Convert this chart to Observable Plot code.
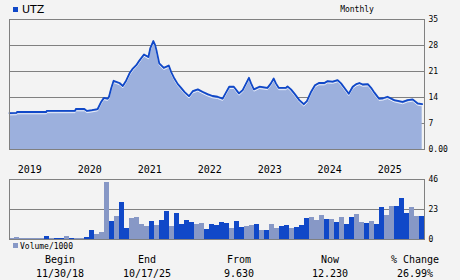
<!DOCTYPE html>
<html><head><meta charset="utf-8">
<script src="https://cdn.jsdelivr.net/npm/d3@7"></script>
<script src="https://cdn.jsdelivr.net/npm/@observablehq/plot@0.6"></script>
<style>
html,body{margin:0;padding:0;background:#f3f3f3;}
#c{position:relative;width:460px;height:280px;overflow:hidden;font-family:"DejaVu Sans Mono",monospace;color:#000;}
.abs{position:absolute;white-space:nowrap;}
.ctr{transform:translate(-50%,-50%);}
.sq{position:absolute;}
</style></head><body><div id="c"></div>
<script>
const ticker = "UTZ";
const periodLabel = "Monthly";
const priceDates = ["2018-11-30","2019-01-12","2019-01-15","2019-07-12","2019-07-15","2020-01-03","2020-01-08","2020-02-29","2020-03-15","2020-04-15","2020-05-20","2020-06-10","2020-06-27","2020-07-20","2020-07-28","2020-08-10","2020-08-25","2020-09-30","2020-10-20","2020-11-10","2020-11-30","2020-12-20","2021-01-10","2021-01-30","2021-02-26","2021-03-25","2021-04-05","2021-04-24","2021-05-05","2021-05-15","2021-05-30","2021-06-27","2021-07-27","2021-08-10","2021-08-30","2021-09-20","2021-10-10","2021-10-30","2021-11-27","2021-12-20","2022-01-20","2022-02-20","2022-03-20","2022-04-20","2022-05-20","2022-06-20","2022-07-10","2022-07-30","2022-08-27","2022-09-27","2022-10-20","2022-11-10","2022-11-27","2022-12-10","2022-12-27","2023-01-30","2023-03-20","2023-04-10","2023-04-27","2023-05-10","2023-05-27","2023-07-10","2023-07-20","2023-08-10","2023-08-30","2023-09-30","2023-10-27","2023-11-15","2023-12-10","2024-01-03","2024-01-27","2024-02-29","2024-03-20","2024-04-20","2024-05-20","2024-06-10","2024-07-10","2024-07-27","2024-08-20","2024-09-10","2024-09-30","2024-10-20","2024-11-20","2024-12-10","2024-12-30","2025-01-27","2025-02-20","2025-03-20","2025-04-30","2025-06-20","2025-07-20","2025-08-20","2025-09-20","2025-10-17"];
const priceValues = [9.8,9.85,10.1,10.1,10.4,10.4,10.9,10.9,10.4,10.6,10.9,12.8,13.9,13.7,14.2,16.4,18.5,17.9,17.1,18.6,20.5,21.8,22.7,24.0,25.6,24.9,27.2,29.2,28.1,26.3,23.2,22.0,22.6,20.9,19.1,17.6,16.6,15.5,14.35,15.7,16.2,15.5,14.9,14.4,14.2,13.7,15.3,16.9,16.9,15.1,16.0,17.8,19.3,17.8,16.2,16.9,16.6,17.8,19.1,17.8,16.6,16.6,17.0,16.2,15.1,13.3,12.2,13.0,15.5,17.3,17.9,17.9,18.4,18.3,18.7,17.8,16.0,15.0,16.9,17.6,17.9,17.5,17.6,16.6,15.3,13.7,13.8,14.2,13.3,12.8,13.3,13.5,12.4,12.23];
const priceTicks = [0,7,14,21,28,35];
const volumeTicks = [0,23,46];
const yearTicks = ["2019-01-01","2020-01-01","2021-01-01","2022-01-01","2023-01-01","2024-01-01","2025-01-01"];
const volumeStart = "2018-12-01";
const volumeValues = [1.0,1.5,0.8,0.8,0.5,0.5,0.8,2.3,0.8,0.8,0.8,2.3,1.0,0.8,0.8,1.5,6.9,3.9,5.4,44,13.9,17.7,28.5,8.5,16.2,17.0,11.6,10.0,13.9,10.8,14.7,21.6,10.0,20.1,11.6,14.7,13.1,11.6,12.3,7.7,11.6,10.8,
13.1,12.3,8.5,13.9,9.3,10.0,10.8,11.6,6.9,6.9,11.6,8.5,10.0,10.8,8.5,9.3,10.8,16.2,17.0,14.7,18.5,15.4,15.4,13.1,17.0,11.6,17.0,19.3,13.1,12.3,13.9,11.6,24.7,18.5,25.4,25.4,31.6,20.1,24.7,17.7,17.7];
const volumeUp = [0,0,0,0,0,0,0,1,0,1,1,0,1,0,0,1,1,0,0,0,1,0,1,1,0,0,0,0,1,0,1,1,0,1,1,1,1,0,0,1,1,1,
1,1,0,1,1,0,0,1,0,1,0,0,1,1,0,1,1,1,0,0,0,1,0,1,0,1,1,0,0,1,0,1,1,0,0,1,1,1,0,0,1];
const statLabels = ["Begin","End","From","Now","% Change"];
const statValues = ["11/30/18","10/17/25","9.630","12.230","26.99%"];
const volumeLabel = "Volume/1000";

const BLUE = "#1048c8", AREA = "#9cb0dd", LIGHT = "#8798c6", GRID = "#808080";
const xDomain = [new Date("2018-11-30"), new Date("2025-10-31")];
const priceData = priceDates.map((d,i)=>({date:new Date(d), close:priceValues[i]}));
const vs = new Date(volumeStart);
const volData = volumeValues.map((v,i)=>({start:d3.utcMonth.offset(vs,i), end:d3.utcMonth.offset(vs,i+1), v, fill: volumeUp[i] ? BLUE : LIGHT}));

const c = document.getElementById("c");
function add(html){ c.insertAdjacentHTML("beforeend", html); }

const style = {background:"transparent", fontFamily:"DejaVu Sans Mono, monospace", fontSize:"8px", color:"#000"};

const price = Plot.plot({
  width:460, height:175, marginLeft:9, marginRight:36, marginTop:19, marginBottom:26,
  style,
  x:{type:"utc", domain:xDomain, label:null},
  y:{domain:[0,35], label:null},
  marks:[
    Plot.gridY(priceTicks.slice(1,-1), {stroke:GRID, strokeOpacity:1}),
    Plot.areaY(priceData, {x:"date", y:"close", fill:AREA}),
    Plot.line(priceData, {x:"date", y:"close", stroke:"#e9eefa", strokeWidth:1, dy:1.8}),
    Plot.line(priceData, {x:"date", y:"close", stroke:BLUE, strokeWidth:1.8}),
    Plot.frame({stroke:GRID}),
    Plot.axisY(priceTicks, {anchor:"right", label:null, tickSize:0, tickPadding:4, fontSize:8, tickFormat:d => d===0 ? "0.00" : String(d)}),
    Plot.axisX(yearTicks.map(d=>new Date(d)), {label:null, tickSize:0, tickPadding:16, dx:15, fontSize:10, tickFormat:d => String(d.getUTCFullYear())})
  ]
});
price.style.position = "absolute"; price.style.left = "0px"; price.style.top = "0px";
c.appendChild(price);

const vol = Plot.plot({
  width:460, height:70, marginLeft:9, marginRight:36, marginTop:4, marginBottom:6,
  style,
  x:{type:"utc", domain:xDomain, axis:null},
  y:{domain:[0,46], label:null},
  color:{type:"identity"},
  marks:[
    Plot.gridY([23], {stroke:GRID, strokeOpacity:1}),
    Plot.rectY(volData, {x1:"start", x2:"end", y:"v", fill:"fill", shapeRendering:"crispEdges"}),
    Plot.frame({stroke:GRID}),
    Plot.axisY(volumeTicks, {anchor:"right", label:null, tickSize:0, tickPadding:4, fontSize:8})
  ]
});
vol.style.position = "absolute"; vol.style.left = "0px"; vol.style.top = "175px";
c.appendChild(vol);

// header
add(`<div class="sq" style="left:13px;top:7px;width:5px;height:5px;background:${BLUE}"></div>`);
add(`<div class="abs" style="left:22px;top:9px;transform:translateY(-50%);font-family:'DejaVu Sans',sans-serif;font-size:11px">${ticker}</div>`);
add(`<div class="abs ctr" style="left:357px;top:9px;font-size:8px">${periodLabel}</div>`);
// volume legend
add(`<div class="sq" style="left:13px;top:243px;width:5px;height:5px;background:${LIGHT}"></div>`);
add(`<div class="abs" style="left:20px;top:245.5px;transform:translateY(-50%);font-size:8px">${volumeLabel}</div>`);
// stats
const cx = [60,147,239,330,415];
statLabels.forEach((t,i)=>add(`<div class="abs ctr" style="left:${cx[i]}px;top:259px;font-size:10px">${t}</div>`));
statValues.forEach((t,i)=>add(`<div class="abs ctr" style="left:${cx[i]}px;top:273px;font-size:10px">${t}</div>`));
</script></body></html>
